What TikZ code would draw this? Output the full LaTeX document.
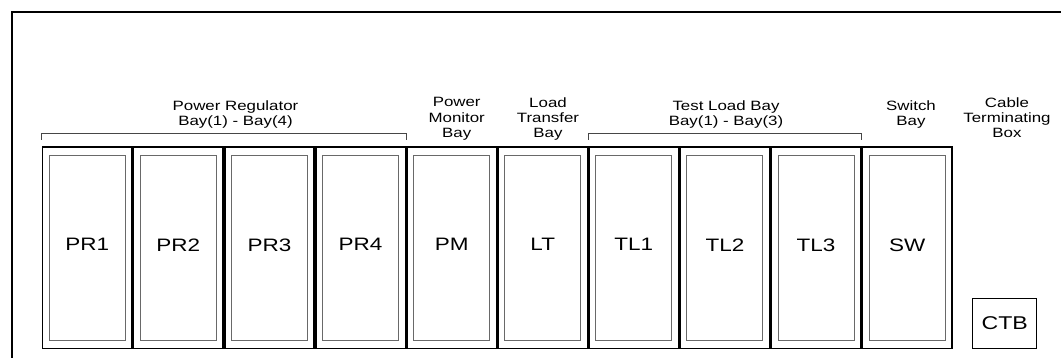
\documentclass[tikz,border=0pt]{standalone}
\usepackage{fontspec}
\setmainfont{Liberation Sans}[FakeStretch=1.25]
\usepackage{tikz}
\usetikzlibrary{positioning}
\definecolor{slotgray}{RGB}{105,105,105}
\definecolor{brackgray}{RGB}{70,70,70}

\begin{document}
\begin{tikzpicture}[
    x=1pt, y=-1pt,
    node distance=0pt,
    frame/.style={draw=black, line width=2pt},
    bay/.style={rectangle, draw=black, line width=1.6pt, minimum width=89.5pt, minimum height=201pt, inner sep=0pt},
    slot/.style={rectangle, draw=slotgray, line width=1pt, minimum width=76pt, minimum height=185.5pt, inner sep=0pt, text depth=6pt, font=\fontsize{18}{20}\selectfont},
    termbox/.style={rectangle, draw=black, line width=1pt, minimum width=64pt, minimum height=50pt, inner sep=0pt, font=\fontsize{18.5}{20}\selectfont},
    bracket/.style={draw=brackgray, line width=1pt},
    header/.style={anchor=north, align=center, inner sep=0pt, font=\fontsize{13.5}{15.3}\selectfont}
]
\useasboundingbox (0,0) rectangle (1061,358);
\fill[white] (0,0) rectangle (1061,358);
\draw[frame] (12,370) |- (1075,12);

% bays
\node[bay] (pr1) at (87.25,247.8) {};
\node[bay,right=of pr1] (pr2) {};
\node[bay,right=of pr2] (pr3) {};
\node[bay,right=of pr3] (pr4) {};
\node[bay,right=of pr4] (pm) {};
\node[bay,right=of pm] (lt) {};
\node[bay,right=of lt] (tl1) {};
\node[bay,right=of tl1] (tl2) {};
\node[bay,right=of tl2] (tl3) {};
\node[bay,right=of tl3] (sw) {};
\foreach \n/\t in {pr1/PR1, pr2/PR2, pr3/PR3, pr4/PR4, pm/PM, lt/LT, tl1/TL1, tl2/TL2, tl3/TL3, sw/SW}
    \node[slot] (\n-in) at (\n) {\t};
\node[termbox] (ctb) at (1004.7,323.3) {CTB};

% brackets
\draw[bracket] ([yshift=6.5pt]pr1.north west) |- ([yshift=13pt]pr4.north east) -- ([yshift=6.5pt]pr4.north east);
\draw[bracket] ([yshift=6.5pt]tl1.north west) |- ([yshift=13pt]tl3.north east) -- ([yshift=6.5pt]tl3.north east);

% headers
\node[header] (prhead) at (235.5,100.2) {Power Regulator\\Bay(1) - Bay(4)};
\node[header] (pmhead) at (456.7,97.4) {Power\\Monitor\\Bay};
\node[header] (lthead) at (548,97.4) {Load\\Transfer\\Bay};
\node[header] (tlhead) at (726,100.2) {Test Load Bay\\Bay(1) - Bay(3)};
\node[header] (swhead) at (911,100.2) {Switch\\Bay};
\node[header] (ctbhead) at (1007,97.4) {Cable\\Terminating\\Box};
\end{tikzpicture}
\end{document}
